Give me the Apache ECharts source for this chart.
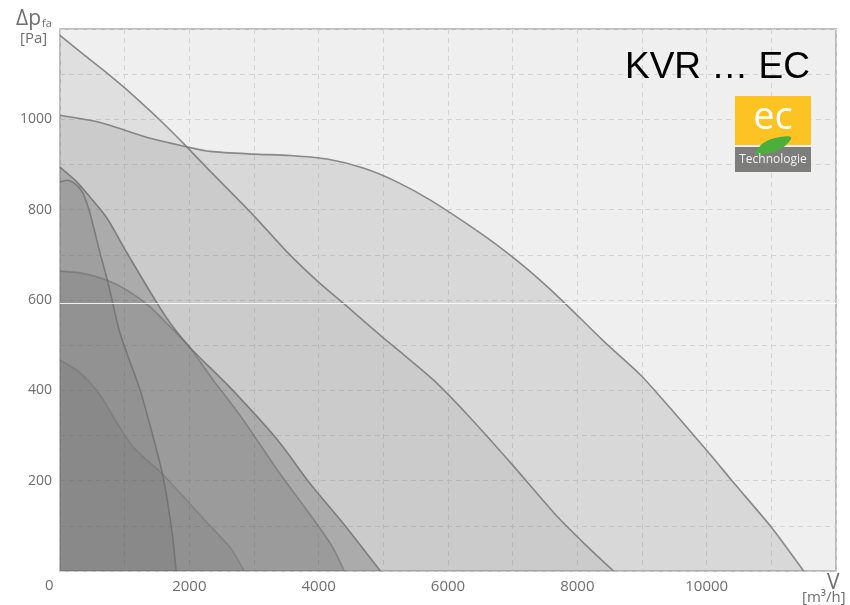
<!DOCTYPE html>
<html>
<head>
<meta charset="utf-8">
<style>html,body{margin:0;padding:0;background:#fff}#c{width:850px;height:605px}</style>
<script src="https://cdn.jsdelivr.net/npm/echarts@6/dist/echarts.min.js"></script>
</head>
<body>
<div id="c"></div>
<script>
const curveA = [[0,1186],[387,1141],[774,1097],[1006,1069],[1548,998],[1935,943],[2276,892],[2988,788],[3514,706],[3994,640],[4381,593],[5000,516],[5263,485],[5774,423],[6300,346],[6966,240],[7693,120],[8127,58],[8560,0]];
const curveB = [[0,1009],[619,993],[1393,958],[1935,940],[2322,929],[2988,923],[3560,920],[4133,912],[4690,892],[5217,861],[5728,821],[6502,748],[7000,695],[7384,649],[7786,596],[8406,509],[8978,434],[9489,352],[10062,257],[10402,198],[11000,97],[11500,0]];
const curveC = [[0,894],[263,861],[464,828],[728,781],[1037,704],[1502,593],[1749,540],[2043,490],[2632,406],[3359,291],[3870,193],[4381,105],[4954,0]];
const curveE = [[0,664],[310,660],[728,644],[1037,622],[1393,585],[1749,534],[2012,494],[2368,423],[2833,335],[3359,224],[3978,103],[4211,54],[4396,0]];
const curveD = [[0,861],[108,865],[263,854],[356,836],[464,792],[619,704],[743,638],[913,534],[1037,481],[1238,401],[1440,297],[1594,209],[1734,85],[1796,0]];
const curveF = [[0,467],[310,439],[619,390],[851,335],[1130,275],[1594,213],[2276,107],[2632,52],[2848,0]];
const xTickLabels = [2000,4000,6000,8000,10000];
const yTickLabels = [200,400,600,800,1000];
const whiteRuleValue = 593;

const labelFont = '"Open Sans", sans-serif';
const labelColor = '#6e6e6e';

function area(data, fill, stroke) {
  return {
    type: 'line', data: data, symbol: 'none', smooth: 0.25, silent: true,
    lineStyle: { color: stroke, width: 1.6 },
    areaStyle: { color: fill, opacity: 1 }
  };
}
const series = [
  area(curveA, 'rgba(89,89,89,0.10)', 'rgba(120,120,120,0.85)'),
  area(curveB, 'rgba(124,124,124,0.20)', 'rgba(120,120,120,0.85)'),
  area(curveC, 'rgba(89,89,89,0.28)', 'rgba(110,110,110,0.8)'),
  area(curveE, 'rgba(83,83,83,0.18)', 'rgba(110,110,110,0.6)'),
  area(curveD, 'rgba(91,91,91,0.14)', 'rgba(105,105,105,0.7)'),
  area(curveF, 'rgba(75,75,75,0.13)', 'rgba(105,105,105,0.4)')
];
series[5].markLine = {
  silent: true, symbol: 'none', animation: false, label: { show: false },
  lineStyle: { color: 'rgba(255,255,255,0.85)', type: 'solid', width: 1 },
  data: [{ yAxis: whiteRuleValue }]
};

const text = (x, y, s, size, extra) => ({
  type: 'text', x: x, y: y, silent: true, z: 20,
  style: Object.assign({ text: s, fontSize: size, fontFamily: labelFont, fill: labelColor, align: 'left', verticalAlign: 'middle' }, extra || {})
});

const chart = echarts.init(document.getElementById('c'), null, { renderer: 'canvas' });
chart.setOption({
  animation: false,
  backgroundColor: '#ffffff',
  grid: { left: 60, right: 14, top: 29, bottom: 34, show: true, backgroundColor: '#efefef', borderColor: '#a8a8a8', borderWidth: 1.5 },
  xAxis: {
    type: 'value', min: 0, max: 12000, interval: 1000,
    axisLine: { show: false }, axisTick: { show: false },
    splitLine: { show: true, lineStyle: { color: '#d2d2d2', type: [5, 4], width: 1 } },
    axisLabel: {
      margin: 8, color: labelColor, fontSize: 15, fontFamily: labelFont,
      formatter: v => xTickLabels.includes(v) ? String(v) : ''
    }
  },
  yAxis: {
    type: 'value', min: 0, max: 1200, interval: 100,
    axisLine: { show: false }, axisTick: { show: false },
    splitLine: { show: true, lineStyle: { color: '#d2d2d2', type: [5, 4], width: 1 } },
    axisLabel: {
      margin: 8, color: labelColor, fontSize: 14, fontFamily: labelFont,
      formatter: v => yTickLabels.includes(v) ? String(v) : ''
    }
  },
  series: series,
  graphic: [
    text(16, 19, 'Δp', 21),
    text(42, 24, 'fa', 11),
    text(20, 39, '[Pa]', 15),
    text(45, 586, '0', 15),
    text(827, 583, 'V', 21),
    text(802, 598, '[m³/h]', 15),
    text(810, 68, 'KVR … EC', 37, { fontFamily: '"Liberation Sans", Arial, sans-serif', fill: '#000000', align: 'right' }),
    { type: 'rect', silent: true, z: 18, shape: { x: 735, y: 96, width: 76, height: 49 }, style: { fill: '#fdc323' } },
    { type: 'rect', silent: true, z: 18, shape: { x: 735, y: 147, width: 76, height: 25 }, style: { fill: '#7d7e7c' } },
    { type: 'polygon', silent: true, z: 19, shape: { smooth: 0.35, points: [[756,154],[762,144],[775,138],[791,137],[785,146],[774,152]] }, style: { fill: '#4caf3d' } },
    text(773, 118, 'ec', 38, { fontFamily: '"Open Sans", sans-serif', fill: '#ffffff', align: 'center' }),
    text(773, 160, 'Technologie', 12, { fill: '#f2f2f2', align: 'center' })
  ]
});
</script>
</body>
</html>
